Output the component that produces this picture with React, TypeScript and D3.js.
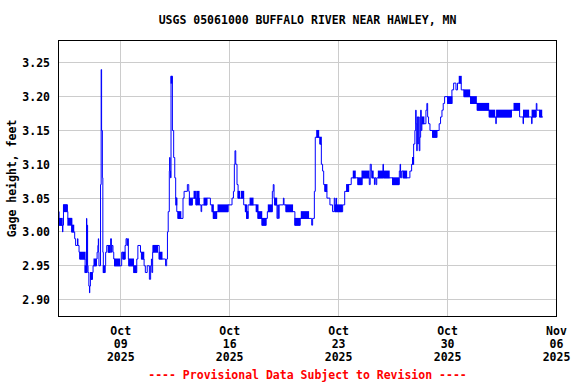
import React from "react";
import * as d3 from "d3";

const title = "USGS 05061000 BUFFALO RIVER NEAR HAWLEY, MN";
const yAxisLabel = "Gage height, feet";
const footer = "---- Provisional Data Subject to Revision ----";
const startDate = "2025-10-05";
const endDate = "2025-11-06";
const xTickDates = ["2025-10-09", "2025-10-16", "2025-10-23", "2025-10-30", "2025-11-06"];
const yTicks = [2.9, 2.95, 3.0, 3.05, 3.1, 3.15, 3.2, 3.25];
const yDomain = [2.875, 3.283];

// [days since Oct 5 2025 00:00, gage height in feet] — step readings
const readings: [number, number][] = [
  [0.0, 3.03], [0.04, 3.01], [0.26, 3.0], [0.28, 3.01], [0.32, 3.04], [0.57, 3.03], [0.6, 3.02],
  [0.85, 3.0], [1.04, 2.99], [1.1, 2.98], [1.22, 2.99], [1.25, 2.98], [1.32, 2.97], [1.37, 2.96],
  [1.71, 2.94], [1.8, 3.02], [1.82, 2.94], [1.84, 3.01], [1.87, 2.95], [1.9, 2.94], [1.95, 2.92],
  [1.99, 2.91], [2.01, 2.92], [2.05, 2.93], [2.18, 2.94], [2.22, 2.95], [2.44, 2.96], [2.48, 2.97],
  [2.53, 2.98], [2.56, 2.99], [2.58, 2.97], [2.6, 2.95], [2.7, 3.07], [2.74, 3.24], [2.77, 3.15],
  [2.82, 3.08], [2.85, 2.97], [2.88, 2.94], [3.0, 2.95], [3.03, 2.97], [3.1, 2.98], [3.2, 2.97],
  [3.35, 2.99], [3.4, 2.97], [3.44, 2.98], [3.5, 2.97], [3.55, 2.96], [3.6, 2.95], [4.06, 2.97],
  [4.14, 2.96], [4.28, 2.98], [4.34, 2.99], [4.4, 2.98], [4.44, 2.99], [4.49, 2.96], [4.52, 2.95],
  [4.84, 2.94], [5.03, 2.96], [5.1, 2.98], [5.27, 2.97], [5.33, 2.96], [5.5, 2.95], [5.58, 2.94],
  [5.7, 2.95], [5.84, 2.93], [5.92, 2.95], [5.97, 2.96], [6.0, 2.94], [6.05, 2.97], [6.08, 2.98],
  [6.47, 2.96], [6.88, 2.95], [6.95, 2.96], [7.0, 3.0], [7.05, 3.03], [7.12, 3.09], [7.14, 3.11],
  [7.17, 3.09], [7.2, 3.08], [7.23, 3.23], [7.32, 3.15], [7.4, 3.11], [7.47, 3.08], [7.53, 3.05],
  [7.6, 3.03], [7.68, 3.02], [8.0, 3.05], [8.07, 3.06], [8.28, 3.07], [8.37, 3.06], [8.41, 3.04],
  [8.6, 3.05], [8.82, 3.04], [8.88, 3.05], [9.05, 3.04], [9.16, 3.03], [9.2, 3.04], [9.54, 3.05],
  [9.76, 3.04], [9.87, 3.03], [9.95, 3.02], [10.16, 3.03], [10.89, 3.04], [11.15, 3.05],
  [11.24, 3.06], [11.3, 3.1], [11.34, 3.12], [11.39, 3.1], [11.47, 3.07], [11.54, 3.05],
  [11.9, 3.04], [12.01, 3.03], [12.09, 3.02], [12.18, 3.04], [12.71, 3.03], [12.82, 3.02],
  [13.08, 3.01], [13.33, 3.02], [13.42, 3.03], [13.74, 3.06], [13.8, 3.07], [13.85, 3.05],
  [13.89, 3.04], [14.04, 3.02], [14.09, 3.04], [14.13, 3.02], [14.18, 3.04], [14.45, 3.05],
  [14.49, 3.04], [14.62, 3.03], [15.19, 3.01], [15.52, 3.02], [16.27, 3.01], [16.33, 3.02],
  [16.44, 3.06], [16.5, 3.14], [16.8, 3.13], [16.89, 3.1], [16.97, 3.09], [17.04, 3.07],
  [17.12, 3.06], [17.25, 3.05], [17.44, 3.04], [17.61, 3.03], [17.72, 3.05], [17.77, 3.03],
  [17.85, 3.05], [17.87, 3.03], [18.26, 3.04], [18.39, 3.06], [18.64, 3.07], [18.81, 3.08],
  [19.24, 3.07], [19.5, 3.08], [19.97, 3.07], [20.03, 3.1], [20.1, 3.09], [20.14, 3.08],
  [20.3, 3.07], [20.33, 3.08], [20.4, 3.07], [20.45, 3.08], [20.85, 3.1], [20.88, 3.08],
  [21.47, 3.07], [21.9, 3.09], [21.95, 3.1], [21.98, 3.08], [22.05, 3.09], [22.15, 3.08],
  [22.58, 3.09], [22.69, 3.1], [22.75, 3.11], [22.82, 3.13], [22.9, 3.15], [22.95, 3.18],
  [22.98, 3.16], [23.02, 3.12], [23.05, 3.17], [23.09, 3.13], [23.12, 3.17], [23.18, 3.12],
  [23.22, 3.14], [23.27, 3.18], [23.31, 3.15], [23.35, 3.16], [23.61, 3.18], [23.67, 3.19],
  [23.72, 3.17], [23.78, 3.16], [23.87, 3.15], [24.04, 3.14], [24.31, 3.15], [24.46, 3.16],
  [24.55, 3.17], [24.64, 3.18], [24.72, 3.19], [24.81, 3.2], [25.0, 3.19], [25.28, 3.21],
  [25.39, 3.22], [25.54, 3.21], [25.64, 3.22], [25.88, 3.21], [26.06, 3.2], [26.48, 3.19],
  [26.91, 3.18], [27.68, 3.17], [28.1, 3.16], [28.13, 3.17], [29.1, 3.18], [29.63, 3.17],
  [29.85, 3.16], [29.88, 3.17], [30.4, 3.16], [30.43, 3.17], [30.7, 3.19], [30.74, 3.18],
  [30.92, 3.17], [31.13, 3.17],
];

// [from day, to day, low ft, high ft] — spans where readings flicker between two values
const flicker: [number, number, number, number][] = [
  [0.04, 0.24, 3.01, 3.02], [0.32, 0.55, 3.03, 3.04], [0.6, 0.85, 3.01, 3.02], [0.85, 0.98, 3.0, 3.01],
  [1.37, 1.71, 2.96, 2.97], [1.71, 1.8, 2.94, 2.95], [2.05, 2.16, 2.93, 2.94], [2.28, 2.42, 2.95, 2.96],
  [2.88, 2.97, 2.94, 2.95], [3.2, 3.3, 2.97, 2.98], [3.6, 3.93, 2.95, 2.96], [4.14, 4.27, 2.96, 2.97],
  [4.52, 4.82, 2.95, 2.96], [4.84, 5.0, 2.94, 2.95], [5.33, 5.48, 2.96, 2.97], [6.08, 6.36, 2.97, 2.98],
  [6.47, 6.65, 2.96, 2.97], [7.23, 7.3, 3.22, 3.23], [7.53, 7.6, 3.04, 3.05], [7.68, 7.86, 3.02, 3.03],
  [8.41, 8.58, 3.04, 3.05], [8.71, 8.8, 3.05, 3.06], [8.88, 9.03, 3.04, 3.06], [9.35, 9.52, 3.04, 3.05],
  [9.87, 9.95, 3.03, 3.04], [9.95, 10.16, 3.02, 3.03], [10.25, 10.89, 3.03, 3.04], [11.54, 11.64, 3.05, 3.06],
  [11.75, 11.9, 3.05, 3.06], [12.01, 12.09, 3.03, 3.04], [12.09, 12.18, 3.02, 3.03], [12.31, 12.5, 3.04, 3.05],
  [12.71, 12.82, 3.03, 3.04], [12.82, 13.06, 3.02, 3.03], [13.08, 13.33, 3.01, 3.02], [13.48, 13.72, 3.03, 3.04],
  [13.89, 14.02, 3.04, 3.05], [14.62, 15.04, 3.03, 3.04], [15.19, 15.52, 3.01, 3.02], [15.6, 16.07, 3.02, 3.03],
  [16.59, 16.72, 3.14, 3.15], [16.8, 16.89, 3.13, 3.14], [17.12, 17.25, 3.06, 3.07], [17.77, 18.22, 3.03, 3.04],
  [18.51, 18.64, 3.06, 3.07], [18.94, 19.07, 3.08, 3.09], [19.24, 19.5, 3.07, 3.08], [19.5, 19.95, 3.08, 3.09],
  [20.14, 20.22, 3.08, 3.09], [20.55, 21.25, 3.08, 3.09], [21.47, 21.85, 3.07, 3.08], [22.15, 22.37, 3.08, 3.09],
  [22.75, 22.82, 3.1, 3.11], [23.35, 23.48, 3.16, 3.17], [24.04, 24.31, 3.14, 3.15], [25.0, 25.28, 3.19, 3.2],
  [25.75, 25.88, 3.22, 3.23], [26.06, 26.42, 3.2, 3.21], [26.48, 26.85, 3.19, 3.2], [26.91, 27.64, 3.18, 3.19],
  [27.68, 28.03, 3.17, 3.18], [28.15, 29.1, 3.17, 3.18], [29.27, 29.63, 3.18, 3.19], [29.88, 30.21, 3.17, 3.18],
  [30.43, 30.65, 3.17, 3.18], [30.92, 31.05, 3.17, 3.18],
];

const W = 576;
const H = 384;
const plot = { left: 58.5, right: 556.5, top: 40.5, bottom: 316.5 };
const FONT = "'DejaVu Sans Mono', monospace";

export default function App() {
  const parse = d3.timeParse("%Y-%m-%d");
  const t0 = parse(startDate) as Date;
  const t1 = parse(endDate) as Date;
  const atDay = (d: number) => new Date(t0.getTime() + d * 86400000);

  const x = d3.scaleTime().domain([t0, t1]).range([plot.left, plot.right]);
  const y = d3.scaleLinear().domain(yDomain).range([plot.bottom, plot.top]);

  const line = d3
    .line<[number, number]>()
    .x((d) => x(atDay(d[0])))
    .y((d) => y(d[1]))
    .curve(d3.curveStepAfter);

  const fmtMon = d3.timeFormat("%b");
  const fmtDay = d3.timeFormat("%d");
  const fmtYear = d3.timeFormat("%Y");
  const ticks = xTickDates.map((s) => parse(s) as Date);
  const crisp = (v: number) => Math.round(v - 0.5) + 0.5;

  return (
    <svg
      width={W}
      height={H}
      style={{ position: "fixed", left: 0, top: 0, background: "#fff" }}
      fontFamily={FONT}
      fontWeight="bold"
    >
      <rect x={0} y={0} width={W} height={H} fill="#fff" />
      <text x={(plot.left + plot.right) / 2} y={24} textAnchor="middle" fontSize={11.5} fill="#000">
        {title}
      </text>
      {yTicks.map((v) => (
        <line key={"gy" + v} x1={plot.left} x2={plot.right} y1={crisp(y(v))} y2={crisp(y(v))} stroke="#cccccc" strokeWidth={1} />
      ))}
      {ticks.map((d, i) => (
        <line key={"gx" + i} x1={crisp(x(d))} x2={crisp(x(d))} y1={plot.top} y2={plot.bottom} stroke="#cccccc" strokeWidth={1} />
      ))}
      {flicker.map((f, i) => (
        <rect
          key={"f" + i}
          x={x(atDay(f[0])) - 0.5}
          y={y(f[3]) - 0.5}
          width={x(atDay(f[1])) - x(atDay(f[0])) + 1}
          height={y(f[2]) - y(f[3]) + 1}
          fill="#0000ff"
        />
      ))}
      <path d={line(readings) || ""} fill="none" stroke="#0000ff" strokeWidth={1} />
      <rect x={plot.left} y={plot.top} width={plot.right - plot.left} height={plot.bottom - plot.top} fill="none" stroke="#000" strokeWidth={1} />
      {yTicks.map((v) => (
        <text key={"ty" + v} x={50} y={y(v) + 4.5} textAnchor="end" fontSize={11.5} fill="#000">
          {v.toFixed(2)}
        </text>
      ))}
      {ticks.map((d, i) => (
        <text key={"tx" + i} x={x(d)} textAnchor="middle" fontSize={11.5} fill="#000">
          <tspan x={x(d)} y={335}>{fmtMon(d)}</tspan>
          <tspan x={x(d)} y={348}>{fmtDay(d)}</tspan>
          <tspan x={x(d)} y={361}>{fmtYear(d)}</tspan>
        </text>
      ))}
      <text
        transform={`translate(16,${(plot.top + plot.bottom) / 2}) rotate(-90)`}
        textAnchor="middle"
        fontSize={11.5}
        fill="#000"
      >
        {yAxisLabel}
      </text>
      <text x={(plot.left + plot.right) / 2} y={379} textAnchor="middle" fontSize={11.5} fill="#ff0000">
        {footer}
      </text>
    </svg>
  );
}
